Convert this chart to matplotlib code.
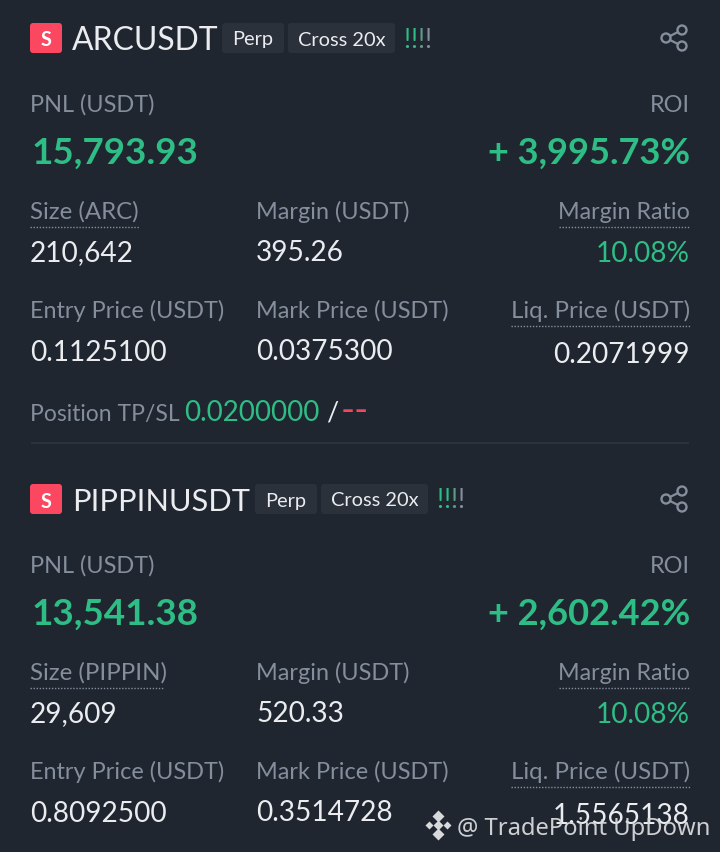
import matplotlib
matplotlib.use("Agg")
import matplotlib.pyplot as plt
from matplotlib.patches import FancyBboxPatch, Circle

symbols = ["ARCUSDT", "PIPPINUSDT"]
symbol_px = [31.9, 30.8]
base_assets = ["ARC", "PIPPIN"]
pnl = ["15,793.93", "13,541.38"]
roi = ["+ 3,995.73%", "+ 2,602.42%"]
size = ["210,642", "29,609"]
margin = ["395.26", "520.33"]
margin_ratio = ["10.08%", "10.08%"]
entry = ["0.1125100", "0.8092500"]
mark = ["0.0375300", "0.3514728"]
liq = ["0.2071999", "1.5565138"]
tp = "0.0200000"
sl = "--"

BG = "#1F2630"; WHITE = "#EAECEF"; GREY = "#848E9C"; GREEN = "#2EBD85"; RED = "#F6465D"
CHIP = "#2A313B"; FONT = "Lato"

fig = plt.figure(figsize=(7.2, 8.52), dpi=100, facecolor=BG)
ax = fig.add_axes([0, 0, 1, 1])
ax.set_xlim(0, 720); ax.set_ylim(852, 0); ax.axis("off")

def T(x, y, s, px, c, ha="left", w="normal", family=FONT, **k):
    return ax.text(x, y, s, fontsize=px * 0.72, color=c, ha=ha, va="baseline",
                   family=family, fontweight=w, **k)

def chip(x0, x1, y0, y1, label):
    ax.add_patch(FancyBboxPatch((x0 + 3, y0 + 3), x1 - x0 - 6, y1 - y0 - 6,
                                boxstyle="round,pad=3,rounding_size=3", fc=CHIP, ec="none"))
    T((x0 + x1) / 2, y1 - 7.5, label, 20, WHITE, ha="center")

def dotted(x0, x1, y):
    ax.plot([x0, x1], [y, y], color=GREY, lw=1, ls=(0, (1, 1.2)))

def share(cx, cy):
    pts = [(cx + 8, cy - 8), (cx - 8, cy), (cx + 8, cy + 8)]
    ax.plot([pts[0][0], pts[1][0], pts[2][0]], [pts[0][1], pts[1][1], pts[2][1]], color=GREY, lw=1.6)
    for p in pts:
        ax.add_patch(Circle(p, 4.5, fc=BG, ec=GREY, lw=1.7, zorder=3))

def card(i, dy, chip_x, bang_x):
    ax.add_patch(FancyBboxPatch((32, 25 + dy), 28, 26, boxstyle="round,pad=2,rounding_size=3",
                                fc="#FB4760", ec="none"))
    T(46, 46.5 + dy, "S", 20, "white", ha="center", w="bold")
    T(72, 50 + dy, symbols[i], symbol_px[i], WHITE)
    chip(chip_x, chip_x + 62, 23 + dy, 53 + dy, "Perp")
    chip(chip_x + 66, chip_x + 173, 23 + dy, 53 + dy, "Cross 20x")
    for j, col in enumerate([GREEN, GREEN, "#5E9C86", GREY]):
        T(bang_x - 1 + j * 7, 47.5 + dy, "!", 26, col, ha="center")
    share(674, 38 + dy)
    T(30, 112 + dy, "PNL (USDT)", 23.5, GREY)
    T(690, 112 + dy, "ROI", 23.5, GREY, ha="right")
    T(32, 164 + dy, pnl[i], 36.8, GREEN, w="bold")
    T(690, 164 + dy, roi[i], 36.2, GREEN, ha="right", w="bold")
    T(30, 219 + dy, "Size (%s)" % base_assets[i], 24, GREY)
    T(256, 219 + dy, "Margin (USDT)", 23.5, GREY)
    T(690, 219 + dy, "Margin Ratio", 23.2, GREY, ha="right")
    dotted(30, 140 if i == 0 else 164, 227 + dy)
    dotted(559, 690, 227 + dy)
    T(30, 261.5 + dy, size[i], 28, WHITE)
    T(256, 261 + dy, margin[i], 28, WHITE)
    T(690, 262 + dy, margin_ratio[i], 28, GREEN, ha="right")
    T(30, 318 + dy, "Entry Price (USDT)", 23.5, GREY)
    T(256, 318 + dy, "Mark Price (USDT)", 23.5, GREY)
    T(690, 318 + dy, "Liq. Price (USDT)", 24, GREY, ha="right")
    dotted(511, 690, 326 + dy)
    T(30, 361 + dy, entry[i], 28, WHITE)
    T(256, 360 + dy, mark[i], 28, WHITE)
    T(690, 363 + dy, liq[i], 28, WHITE, ha="right")

card(0, 0, 222, 408)
card(1, 461, 255, 441)

T(30, 420.5, "Position TP/SL", 22.9, GREY)
T(184, 421, tp, 27.8, GREEN)
T(326, 421, "/", 27, WHITE)
T(341, 422, sl, 38, RED)
ax.plot([32, 688], [443, 443], color="#2B323D", lw=1.5)

# watermark
T(457, 835, "@ TradePoint UpDown", 23.8, "#D8D9DB", family="Noto Sans", alpha=0.95)
cx, cy = 438, 825
for dx, dy_, s in [(0, -9, 4), (0, 9, 4), (-9, 0, 2.5), (9, 0, 2.5), (0, 0, 3)]:
    ax.plot(cx + dx, cy + dy_, marker="D", ms=s * 1.6, color="#D8D9DB", mec="none")

fig.savefig("out.png", dpi=100, facecolor=BG)
